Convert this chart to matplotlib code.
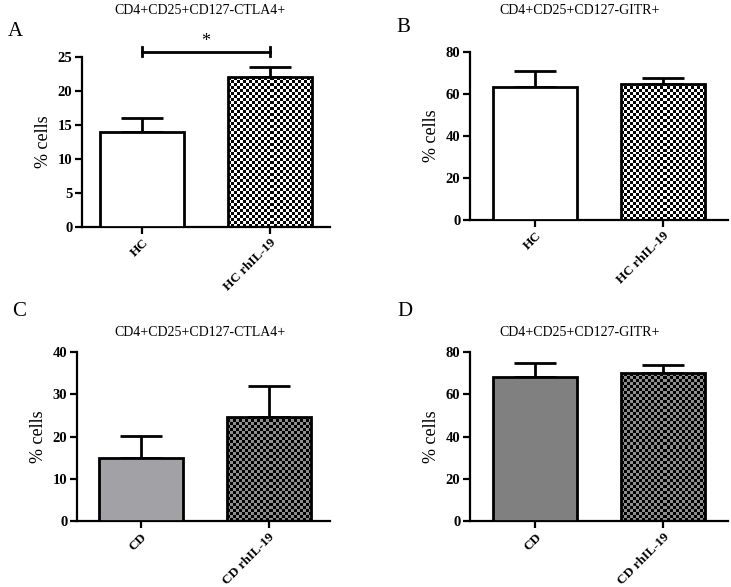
import numpy as np
import matplotlib
matplotlib.use("Agg")
import matplotlib.pyplot as plt

plt.rcParams['font.family'] = ['Liberation Serif', 'DejaVu Serif']

# -----------------------------
# DATA
# -----------------------------
groups_hc = ["HC", "HC rhIL-19"]
groups_cd = ["CD", "CD rhIL-19"]

ctla4_hc = [14.0, 22.0]
ctla4_hc_err = [2.0, 1.6]
gitr_hc = [63.5, 65.0]
gitr_hc_err = [7.5, 2.7]

ctla4_cd = [14.8, 24.7]
ctla4_cd_err = [5.3, 7.3]
gitr_cd = [68.0, 70.0]
gitr_cd_err = [6.7, 3.7]

titles = ["CD4+CD25+CD127-CTLA4+", "CD4+CD25+CD127-GITR+",
          "CD4+CD25+CD127-CTLA4+", "CD4+CD25+CD127-GITR+"]
letters = ["A", "B", "C", "D"]

# -----------------------------
# LAYOUT (figure fractions, px based)
# -----------------------------
W, H = 731, 587
fig = plt.figure(figsize=(W / 100, H / 100), dpi=100)


def px_axes(x0, x1, ytop, ybot):
    return fig.add_axes([x0 / W, 1 - ybot / H, (x1 - x0) / W, (ybot - ytop) / H])


def checker(ax, rect, dark, light, sq=3.0):
    # checkerboard texture clipped to the bar rectangle
    x, y = rect.get_x(), rect.get_y()
    w, h = rect.get_width(), rect.get_height()
    p0 = ax.transData.transform((x, y))
    p1 = ax.transData.transform((x + w, y + h))
    nx_ = max(1, int(round(abs(p1[0] - p0[0]) / sq)))
    ny_ = max(1, int(round(abs(p1[1] - p0[1]) / sq)))
    ii, jj = np.meshgrid(np.arange(nx_), np.arange(ny_))
    board = (ii + jj) % 2
    cmap = matplotlib.colors.ListedColormap([light, dark])
    im = ax.imshow(board, cmap=cmap, extent=(x, x + w, y, y + h), aspect='auto',
                   interpolation='nearest', zorder=2, origin='lower')
    im.set_clip_path(rect)


def panel(ax, labels, vals, errs, ylim, yticks, xlim, fill0, chk):
    ax.set_xlim(*xlim)
    ax.set_ylim(*ylim)
    x = np.arange(len(labels))
    bars = ax.bar(x, vals, width=0.66, color=[fill0, 'none'], edgecolor='black',
                  linewidth=2.0, zorder=3)
    ax.errorbar(x, vals, yerr=[[0, 0], errs], fmt='none', ecolor='black',
                elinewidth=2.0, capsize=15, capthick=2.0, zorder=1)
    checker(ax, bars[1], chk[0], chk[1])
    ax.set_xlim(*xlim)
    ax.set_ylim(*ylim)
    ax.set_yticks(yticks)
    ax.set_xticks(x)
    ax.set_xticklabels(labels, rotation=45, ha='right', rotation_mode='anchor',
                       fontweight='bold', fontsize=9.5)
    for t in ax.get_yticklabels():
        t.set_fontweight('bold')
        t.set_fontsize(10.5)
    for s in ['top', 'right']:
        ax.spines[s].set_visible(False)
    for s in ['left', 'bottom']:
        ax.spines[s].set_linewidth(1.6)
    ax.tick_params(width=1.6, length=5, pad=2)
    ax.set_ylabel("% cells", fontsize=13, labelpad=4)
    return ax


axA = px_axes(82, 330, 57, 227)
panel(axA, groups_hc, ctla4_hc, ctla4_hc_err, (0, 25), [0, 5, 10, 15, 20, 25],
      (-0.47, 1.47), 'white', ('black', 'white'))
axB = px_axes(470, 728, 52, 220)
panel(axB, groups_hc, gitr_hc, gitr_hc_err, (0, 80), [0, 20, 40, 60, 80],
      (-0.51, 1.51), 'white', ('black', 'white'))
axC = px_axes(77, 330, 352, 521)
panel(axC, groups_cd, ctla4_cd, ctla4_cd_err, (0, 40), [0, 10, 20, 30, 40],
      (-0.5, 1.48), '#a2a2a6', ('black', '#8e8e8e'))
axD = px_axes(470, 728, 352, 521)
panel(axD, groups_cd, gitr_cd, gitr_cd_err, (0, 80), [0, 20, 40, 60, 80],
      (-0.51, 1.51), '#808080', ('black', '#8e8e8e'))

# significance bracket in panel A
axA.plot([0, 1], [25.8, 25.8], color='black', lw=2.0, clip_on=False)
axA.plot([0, 0], [25.1, 26.5], color='black', lw=2.0, clip_on=False)
axA.plot([1, 1], [25.1, 26.5], color='black', lw=2.0, clip_on=False)
axA.text(0.5, 26.1, "*", ha='center', va='bottom', fontsize=13)

# titles and panel letters
title_pos = [(200, 11), (580, 11), (200, 332), (580, 332)]
letter_pos = [(8, 32), (396, 27), (12, 312), (397, 312)]
for t, (tx, ty) in zip(titles, title_pos):
    fig.text(tx / W, 1 - ty / H, t, ha='center', va='center', fontsize=10)
for l, (lx, ly) in zip(letters, letter_pos):
    fig.text(lx / W, 1 - ly / H, l, ha='left', va='center', fontsize=15)

plt.savefig("out.png", dpi=100)
